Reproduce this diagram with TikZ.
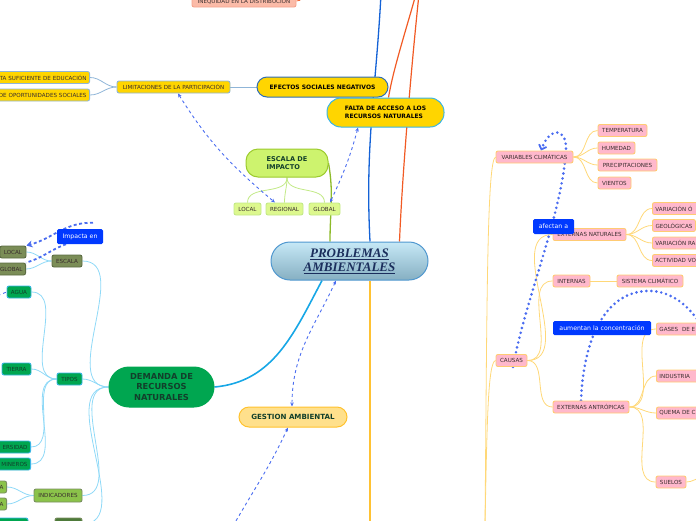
\documentclass[tikz,border=0pt]{standalone}
\usepackage{fontspec}
\setmainfont{DejaVu Sans}
\newfontfamily\titlefont{Liberation Serif}
\usetikzlibrary{arrows.meta, positioning, backgrounds}
\definecolor{gold}{HTML}{FFD500}
\definecolor{efline}{HTML}{2F6DB5}
\definecolor{limline}{HTML}{8FB5D8}
\definecolor{faltaline}{HTML}{39B5E5}
\definecolor{probtop}{HTML}{C6E8F6}
\definecolor{probbot}{HTML}{86AFC2}
\definecolor{probline}{HTML}{4F97CF}
\definecolor{probtext}{HTML}{1B2E5C}
\definecolor{salmon}{HTML}{FBBBA8}
\definecolor{salmonline}{HTML}{F4A38C}
\definecolor{lime}{HTML}{CDF36E}
\definecolor{limeline}{HTML}{9CCB2D}
\definecolor{limepale}{HTML}{DDF88E}
\definecolor{limepaleline}{HTML}{C2E986}
\definecolor{olivetrunk}{HTML}{8DBA2A}
\definecolor{green}{HTML}{00A650}
\definecolor{greentext}{HTML}{123F2B}
\definecolor{cyantrunk}{HTML}{17A7E6}
\definecolor{cyanpale}{HTML}{8FD9F7}
\definecolor{olive}{HTML}{7B8D57}
\definecolor{oliveline}{HTML}{5B6B42}
\definecolor{indic}{HTML}{8BC34A}
\definecolor{indicline}{HTML}{7A8F60}
\definecolor{darkgreen}{HTML}{4E7A3A}
\definecolor{bluebox}{HTML}{0039FF}
\definecolor{dashblue}{HTML}{4A6CF0}
\definecolor{gestfill}{HTML}{FFE08C}
\definecolor{gestline}{HTML}{FFC22E}
\definecolor{trunkorange}{HTML}{FFC233}
\definecolor{trunkred}{HTML}{F15A24}
\definecolor{trunkblue}{HTML}{1462D6}
\definecolor{pinkfill}{HTML}{FFB8CC}
\definecolor{pinkline}{HTML}{FFCB73}
\definecolor{paleline}{HTML}{FFD878}
\definecolor{leaftext}{HTML}{3A2E2E}

\tikzset{
  box/.style={rectangle, rounded corners=2pt, draw, line width=0.9pt, inner sep=0pt,
    inner xsep=3pt, minimum height=12pt, text=leaftext,
    font=\fontsize{5.6}{6.4}\selectfont},
  pinkbox/.style={box, fill=pinkfill, draw=pinkline},
  goldbox/.style={box, fill=gold, draw=limline},
  olivebox/.style={box, fill=olive, draw=oliveline},
  greenbox/.style={box, fill=green, draw=faltaline, text=greentext},
  limebox/.style={box, fill=limepale, draw=limepaleline},
  indicbox/.style={box, fill=indic, draw=indicline},
  cutleft/.style={anchor=east, text width=#1, align=right},
  cutright/.style={anchor=west, text width=#1, align=left},
  pill/.style={rectangle, rounded corners=#1, draw, line width=1pt, align=center,
    inner sep=0pt},
  bluelabel/.style={rectangle, rounded corners=1.5pt, fill=bluebox, text=white,
    inner sep=0pt, font=\fontsize{6.2}{7}\selectfont},
  central/.style={pill=19pt, draw=probline, top color=probtop, bottom color=probbot,
    minimum width=157pt, minimum height=38pt, text=probtext,
    font=\titlefont\bfseries\itshape\fontsize{13}{14}\selectfont},
  lightcon/.style={limline, line width=0.8pt},
  cyancon/.style={cyanpale, line width=0.8pt},
  yellowcon/.style={paleline, line width=0.8pt},
  limecon/.style={limepaleline, line width=0.8pt},
  dashlink/.style={dashblue, dashed, line width=0.9pt,
    {Stealth[length=4pt, width=3.5pt]}-{Stealth[length=4pt, width=3.5pt]}},
  dashend/.style={dashblue, dashed, line width=0.9pt, -{Stealth[length=4pt, width=3.5pt]}},
  thickdash/.style={dashblue, line width=1.8pt, dash pattern=on 3pt off 2.5pt},
  dotlink/.style={dashblue, line width=2.9pt, line cap=round, dash pattern=on 0pt off 5pt},
}

\begin{document}
\begin{tikzpicture}[x=1pt, y=-1pt]
\useasboundingbox (0,0) rectangle (696,520);
\clip (0,0) rectangle (696,520);

% Centre
\node[central] (prob) at (349.5,261) {\underline{PROBLEMAS}\\\underline{AMBIENTALES}};

% Top branch
\node[box, fill=salmon, draw=salmonline, minimum width=104pt] (ineq) at (244,1) {INEQUIDAD EN LA DISTRIBUCIÓN};
\node[pill=10pt, fill=gold, draw=efline, minimum width=131pt, minimum height=20pt,
  font=\bfseries\fontsize{6}{7}\selectfont] (efectos) at (322.5,87) {EFECTOS SOCIALES NEGATIVOS};
\node[goldbox, minimum width=113pt] (limit) at (173.5,87) {LIMITACIONES DE LA PARTICIPACIÓN};
\node[goldbox, cutleft=110pt] (educ) at (90,77.5) {TA SUFICIENTE DE EDUCACIÓN};
\node[goldbox, cutleft=110pt] (oport) at (90,95) {DE OPORTUNIDADES SOCIALES};
\node[pill=14pt, fill=gold, draw=faltaline, minimum width=117pt, minimum height=29pt, align=left,
  font=\bfseries\fontsize{6}{8.6}\selectfont] (falta) at (385.5,112.5) {FALTA DE ACCESO A LOS\\RECURSOS NATURALES};

% Escala de impacto
\node[pill=12pt, fill=lime, draw=limeline, minimum width=82pt, minimum height=28pt, align=left,
  text=greentext, font=\bfseries\fontsize{6.6}{7.8}\selectfont] (escimp) at (287,163) {ESCALA DE\\IMPACTO};
\node[limebox, minimum width=27pt] (elocal) at (247.5,209) {LOCAL};
\node[limebox, minimum width=37pt] (eregional) at (284.5,209) {REGIONAL};
\node[limebox, minimum width=31pt] (eglobal) at (324.5,209) {GLOBAL};

% Demanda de recursos naturales
\node[pill=20pt, fill=green, draw=green, minimum width=105pt, minimum height=40pt, text=greentext,
  font=\bfseries\fontsize{8.3}{10.5}\selectfont] (demanda) at (161.5,387) {DEMANDA DE\\RECURSOS\\NATURALES};
\node[olivebox, minimum width=30pt] (escala) at (67,261) {ESCALA};
\node[olivebox, minimum width=26pt] (llocal) at (13,252) {LOCAL};
\node[olivebox, cutleft=26pt] (lglobal) at (26,269) {GLOBAL};
\node[bluelabel, minimum width=46pt, minimum height=15pt] (impacta) at (80,236.5) {Impacta en};
\node[greenbox, minimum width=24pt] (agua) at (19,292) {AGUA};
\node[greenbox, minimum width=25pt] (tipos) at (69.5,379) {TIPOS};
\node[greenbox, minimum width=29pt] (tierra) at (16.5,369) {TIERRA};
\node[greenbox, cutleft=40pt] (biodiv) at (31,447) {ERSIDAD};
\node[greenbox, cutleft=40pt] (minero) at (31,464) {MINEROS};
\node[indicbox, minimum width=48pt, minimum height=13pt] (indic) at (58,495.5) {INDICADORES};
\node[indicbox, cutleft=20pt] (iaa) at (7,487) {A};
\node[indicbox, cutleft=20pt] (iab) at (7,504) {A};
\node[box, fill=darkgreen, draw=indicline, minimum width=27pt] (dbot) at (68.5,524) {};
\node[greenbox, minimum width=40pt] (gbotleaf) at (8,524) {};

% Gestion ambiental
\node[pill=10pt, fill=gestfill, draw=gestline, minimum width=108pt, minimum height=20pt, text=greentext,
  font=\bfseries\fontsize{7.1}{8}\selectfont] (gestion) at (293,417) {GESTION AMBIENTAL};

% Causas
\node[pinkbox, minimum width=77pt] (varcli) at (534.5,157) {VARIABLES CLIMÁTICAS};
\node[pinkbox, minimum width=49pt] (temp) at (622.5,130.5) {TEMPERATURA};
\node[pinkbox, minimum width=37pt] (humedad) at (616.5,148) {HUMEDAD};
\node[pinkbox, minimum width=59pt] (precip) at (627.5,165) {PRECIPITACIONES};
\node[pinkbox, minimum width=33pt] (vientos) at (614.5,183) {VIENTOS};
\node[pinkbox, minimum width=73pt] (extnat) at (589.5,234.5) {EXTERNAS NATURALES};
\node[pinkbox, cutright=60pt] (varor) at (652,208.5) {VARIACIÓN Ó};
\node[pinkbox, minimum width=43pt, anchor=west] (geolo) at (652,225.5) {GEOLÓGICAS};
\node[pinkbox, cutright=60pt] (varra) at (652,243) {VARIACIÓN RA};
\node[pinkbox, cutright=60pt] (actvo) at (652,260.5) {ACTIVIDAD VO};
\node[pinkbox, minimum width=37pt] (internas) at (571.5,281) {INTERNAS};
\node[pinkbox, minimum width=66pt] (siscli) at (650,281) {SISTEMA CLIMÁTICO};
\node[pinkbox, minimum width=31pt] (causas) at (511.5,360.5) {CAUSAS};
\node[pinkbox, minimum width=76pt] (extant) at (591,407) {EXTERNAS ANTRÓPICAS};
\node[pinkbox, cutright=60pt] (gases) at (656,329) {GASES\ \ DE E};
\node[pinkbox, cutright=38pt] (industria) at (656,376) {INDUSTRIA};
\node[pinkbox, cutright=60pt] (quema) at (656,413) {QUEMA DE C};
\node[pinkbox, minimum width=30pt] (suelos) at (671,482) {SUELOS};
\node[bluelabel, minimum width=41pt, minimum height=15pt] (afectan) at (553.5,226.5) {afectan a};
\node[bluelabel, minimum width=98pt, minimum height=14pt] (aument) at (602,328) {aumentan la concentración};

\begin{scope}[on background layer]
% Trunks
\coordinate (btop) at (381,-6);
\coordinate (rtopa) at (419,-6);
\coordinate (rtopb) at (416,-6);
\coordinate (ineqend) at (306,-6);
\draw[trunkblue, line width=1.3pt] (btop) to[out=-93,in=93] ([xshift=20.5pt]prob.north);
\draw[trunkred, line width=1.2pt] (rtopa) .. controls (410,80) and (402,180) .. ([xshift=50pt]prob.north);
\draw[trunkred, line width=1.2pt] (rtopb) .. controls (406,30) and (393,70) .. ([xshift=3pt]falta.north);
\draw[trunkred, line width=0.7pt] (ineq.east) to[out=0,in=-130] (ineqend);
\draw[olivetrunk, line width=1.3pt] (escimp.east) to[out=-80,in=90] ([xshift=-19.5pt]prob.north);
\draw[cyantrunk, line width=1.6pt] (demanda.east) to[out=5,in=-118] ([xshift=-27.5pt]prob.south);
\coordinate (obot) at (370,526);
\draw[trunkorange, line width=1.2pt] ([xshift=20.5pt]prob.south) -- (obot);

% Top leaves
\draw[lightcon] (limit.east) -- (efectos.west);
\draw[lightcon] (limit.west) to[out=180,in=0] (educ.east);
\draw[lightcon] (limit.west) to[out=180,in=0] (oport.east);
\draw[limecon] (escimp.south) to[out=-90,in=90] (elocal.north);
\draw[limecon] (escimp.south) to[out=-90,in=90] (eregional.north);
\draw[limecon] (escimp.south) to[out=-90,in=90] (eglobal.north);

% Left leaves
\foreach \n in {escala, tipos, indic, dbot}
  \draw[cyancon] (demanda.west) to[out=180,in=0] (\n.east);
\foreach \n in {llocal, lglobal}
  \draw[cyancon] (escala.west) to[out=180,in=0] (\n.east);
\foreach \n in {agua, tierra, biodiv, minero}
  \draw[cyancon] (tipos.west) to[out=180,in=0] (\n.east);
\foreach \n in {iaa, iab}
  \draw[cyancon] (indic.west) to[out=180,in=0] (\n.east);

% Right leaves
\coordinate (rbase) at (485,526);
\coordinate (suelosend) at (702,478);
\draw[yellowcon] (rbase) .. controls (487,300) and (487,160) .. (varcli.west);
\draw[yellowcon] (rbase) .. controls (487,420) and (488,362) .. (causas.west);
\foreach \n in {temp, humedad, precip, vientos}
  \draw[yellowcon] (varcli.east) to[out=0,in=180] (\n.west);
\foreach \n in {extnat, internas, extant}
  \draw[yellowcon] (causas.east) to[out=0,in=180] (\n.west);
\foreach \n in {varor, geolo, varra, actvo}
  \draw[yellowcon] (extnat.east) to[out=0,in=180] (\n.west);
\draw[yellowcon] (internas.east) -- (siscli.west);
\foreach \n in {gases, industria, quema, suelos}
  \draw[yellowcon] (extant.east) to[out=0,in=180] (\n.west);
\draw[yellowcon] (suelos.east) to[out=0,in=180] (suelosend);

% Relations
\draw[dashlink] ([xshift=4.5pt]limit.south) to[out=-58,in=140] ([xshift=-9.5pt]eregional.north);
\draw[dashlink] ([xshift=-27.5pt]falta.south) to[out=-105,in=65] ([xshift=5.5pt]eglobal.north);
\draw[dashlink] ([xshift=-13.5pt]prob.south) to[out=-115,in=90] ([xshift=-1pt]gestion.north);
\coordinate (gbot) at (233,526);
\draw[dashend] (gbot) to[out=60,in=-115] ([xshift=-5pt]gestion.south);
\draw[thickdash, -{Stealth[length=6pt, width=7pt]}] ([xshift=13pt, yshift=6pt]impacta.north) to[out=178,in=15] (llocal.north east);
\draw[thickdash] ([xshift=-14pt]impacta.south) to[out=-160,in=15] (lglobal.north east);
\coordinate (aguaout) at (-8,298);
\draw[dashblue, dashed, line width=0.9pt] (aguaout) -- (agua.west);
\draw[dotlink, -{Straight Barb[length=4pt, width=8pt, line width=1.8pt]}] ([xshift=1.5pt]causas.south)
  .. controls (525,300) and (562,215) .. (566,150)
  .. controls (567,128) and (550,126) .. ([xshift=6.5pt]varcli.north);
\coordinate (dotend) at (704,330);
\draw[dotlink] ([xshift=-10pt]extant.north) .. controls (584,330) and (610,292) .. (647,291)
  .. controls (670,290) and (690,305) .. (dotend);
\end{scope}
\end{tikzpicture}
\end{document}
